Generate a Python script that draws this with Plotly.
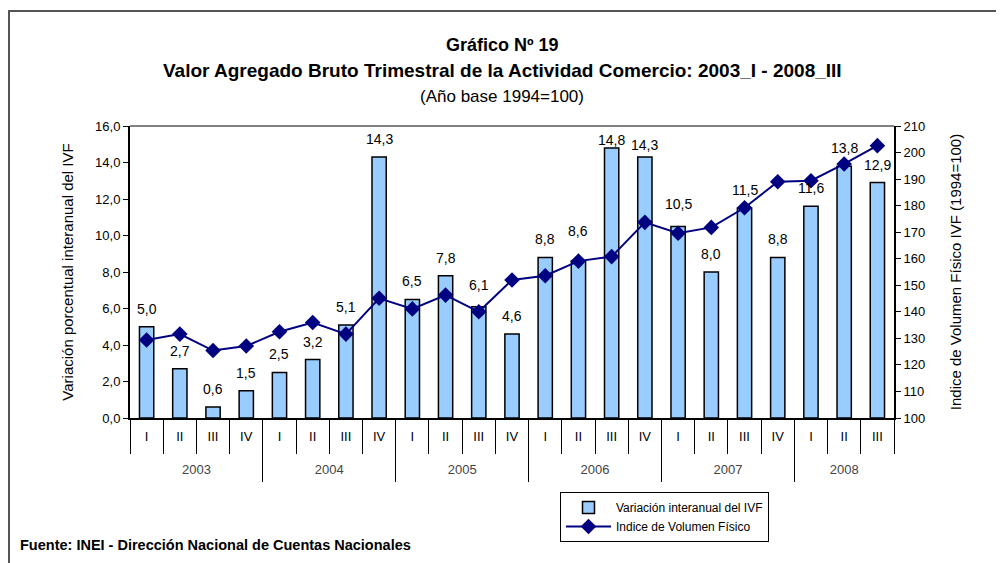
import plotly.graph_objects as go

# Datos del gráfico
years = ["2003"] * 4 + ["2004"] * 4 + ["2005"] * 4 + ["2006"] * 4 + ["2007"] * 4 + ["2008"] * 3
quarters = ["I", "II", "III", "IV"] * 5 + ["I", "II", "III"]
variacion = [5.0, 2.7, 0.6, 1.5, 2.5, 3.2, 5.1, 14.3, 6.5, 7.8, 6.1, 4.6,
             8.8, 8.6, 14.8, 14.3, 10.5, 8.0, 11.5, 8.8, 11.6, 13.8, 12.9]
ivf = [129.4, 131.6, 125.4, 127.1, 132.5, 136.0, 131.6, 145.1, 141.1, 146.3, 140.0, 152.0,
       153.6, 159.1, 160.8, 173.7, 169.6, 171.8, 179.2, 189.0, 189.4, 195.7, 202.6]

FONT = "Liberation Sans Narrow, Liberation Sans, Arial"
ARIAL = "Liberation Sans, Arial"

periodos = [f"{y}_{q}" for y, q in zip(years, quarters)]
n = len(periodos)

# límites y centros de cada año (en índice de categoría)
anios = list(dict.fromkeys(years))
limites = [-0.5]
centros = []
for a in anios:
    idx = [i for i, y in enumerate(years) if y == a]
    centros.append(sum(idx) / len(idx))
    limites.append(idx[-1] + 0.5)

fig = go.Figure()
fig.add_trace(go.Bar(
    x=periodos, y=variacion,
    name="Variación interanual del IVF",
    marker=dict(color="#99CCFF", line=dict(color="black", width=1.5)),
))
fig.add_trace(go.Scatter(
    x=periodos, y=ivf, yaxis="y2",
    name="Indice de Volumen Físico",
    mode="lines+markers",
    line=dict(color="#000080", width=2),
    marker=dict(symbol="diamond", size=12, color="#000080"),
))
# trazas invisibles para que se dibujen los ejes de años
for eje in ["x2", "x3"]:
    fig.add_trace(go.Scatter(x=centros, y=[0] * len(centros), xaxis=eje, mode="markers",
                             marker=dict(opacity=0), showlegend=False, hoverinfo="skip"))

# etiquetas de datos sobre las barras
extra = {13: 12, 14: -10, 15: -6, 10: 4, 16: 4}
for i, v in enumerate(variacion):
    fig.add_annotation(x=periodos[i], y=v, xref="x", yref="y", text=f"{v:.1f}".replace(".", ","),
                       showarrow=False, yshift=18 + extra.get(i, 0),
                       font=dict(family=FONT, size=14, color="black"))

H = 356  # alto del área (px)


def py(ypx):
    return (482 - ypx) / H


def px(xpx):
    return (xpx - 130) / 764


# títulos
titulos = [("Gráfico Nº 19", 45, True, 18),
           ("Valor Agregado Bruto Trimestral de la Actividad Comercio: 2003_I - 2008_III", 70, True, 19),
           ("(Año base 1994=100)", 97, False, 17)]
for txt, ypos, bold, size in titulos:
    fig.add_annotation(x=px(502), y=py(ypos), xref="paper", yref="paper",
                       xanchor="center", yanchor="middle",
                       text=f"<b>{txt}</b>" if bold else txt, showarrow=False,
                       font=dict(family=FONT, size=size, color="black"))

fig.add_annotation(x=px(18), y=py(545), xref="paper", yref="paper",
                   xanchor="left", yanchor="middle",
                   text="<b>Fuente: INEI - Dirección Nacional de Cuentas Nacionales</b>",
                   showarrow=False, font=dict(family=FONT, size=14.5, color="black"))

# marco exterior y borde superior del área
fig.add_shape(type="rect", xref="paper", yref="paper",
              x0=px(9), x1=px(1000), y0=py(600), y1=py(11),
              line=dict(color="#555555", width=2))
fig.add_shape(type="line", xref="paper", yref="paper", x0=0, x1=1, y0=1, y1=1,
              line=dict(color="#808080", width=2))

dom = [py(418), 1]

# la página deja 8 px de margen al cuerpo: se compensa en los márgenes
fig.update_layout(
    width=1004, height=563,
    margin=dict(l=122, r=118, t=118, b=89),
    paper_bgcolor="white", plot_bgcolor="white",
    separators=",.",
    bargap=0.57,
    showlegend=True,
    legend=dict(x=px(560), y=py(492), xanchor="left", yanchor="top",
                bordercolor="black", borderwidth=1, bgcolor="white",
                font=dict(family=FONT, size=12, color="black"),
                itemwidth=45),
    font=dict(family=FONT, color="black"),
    xaxis=dict(
        type="category", showline=True, linecolor="black", linewidth=2,
        tickvals=periodos, ticktext=quarters, range=[-0.5, n - 0.5],
        ticks="outside", ticklen=34, tickcolor="black", tickwidth=1, tickson="boundaries",
        ticklabelstandoff=5,
        tickfont=dict(family=ARIAL, size=13), showgrid=False,
    ),
    # líneas divisorias de años
    xaxis2=dict(
        overlaying="x", anchor="free", position=0, side="bottom",
        range=[-0.5, n - 0.5], tickvals=limites, showticklabels=False,
        ticks="inside", ticklen=64, tickcolor="black", tickwidth=1,
        showline=False, showgrid=False, zeroline=False,
    ),
    # etiquetas de años
    xaxis3=dict(
        overlaying="x", anchor="free", position=0, side="bottom",
        range=[-0.5, n - 0.5], tickvals=centros, ticktext=anios,
        ticks="", ticklabelposition="inside", ticklabelstandoff=2,
        tickfont=dict(family=ARIAL, size=13),
        showline=False, showgrid=False, zeroline=False,
    ),
    yaxis=dict(
        domain=dom,
        range=[0, 16], dtick=2, tickformat=".1f", showgrid=False, zeroline=False,
        showline=True, linecolor="black", linewidth=2, ticks="outside", ticklen=5,
        tickcolor="black", tickfont=dict(family=ARIAL, size=13),
        title=dict(text="Variación porcentual interanual del IVF",
                   font=dict(family=ARIAL, size=15), standoff=18),
    ),
    yaxis2=dict(
        domain=dom,
        range=[100, 210], dtick=10, overlaying="y", side="right", showgrid=False,
        zeroline=False, showline=True, linecolor="black", linewidth=2,
        ticks="outside", ticklen=5, tickcolor="black",
        tickfont=dict(family=ARIAL, size=13),
        title=dict(text="Indice de Volumen Físico IVF (1994=100)",
                   font=dict(family=ARIAL, size=15), standoff=26),
    ),
)

fig.write_html("out.html")
